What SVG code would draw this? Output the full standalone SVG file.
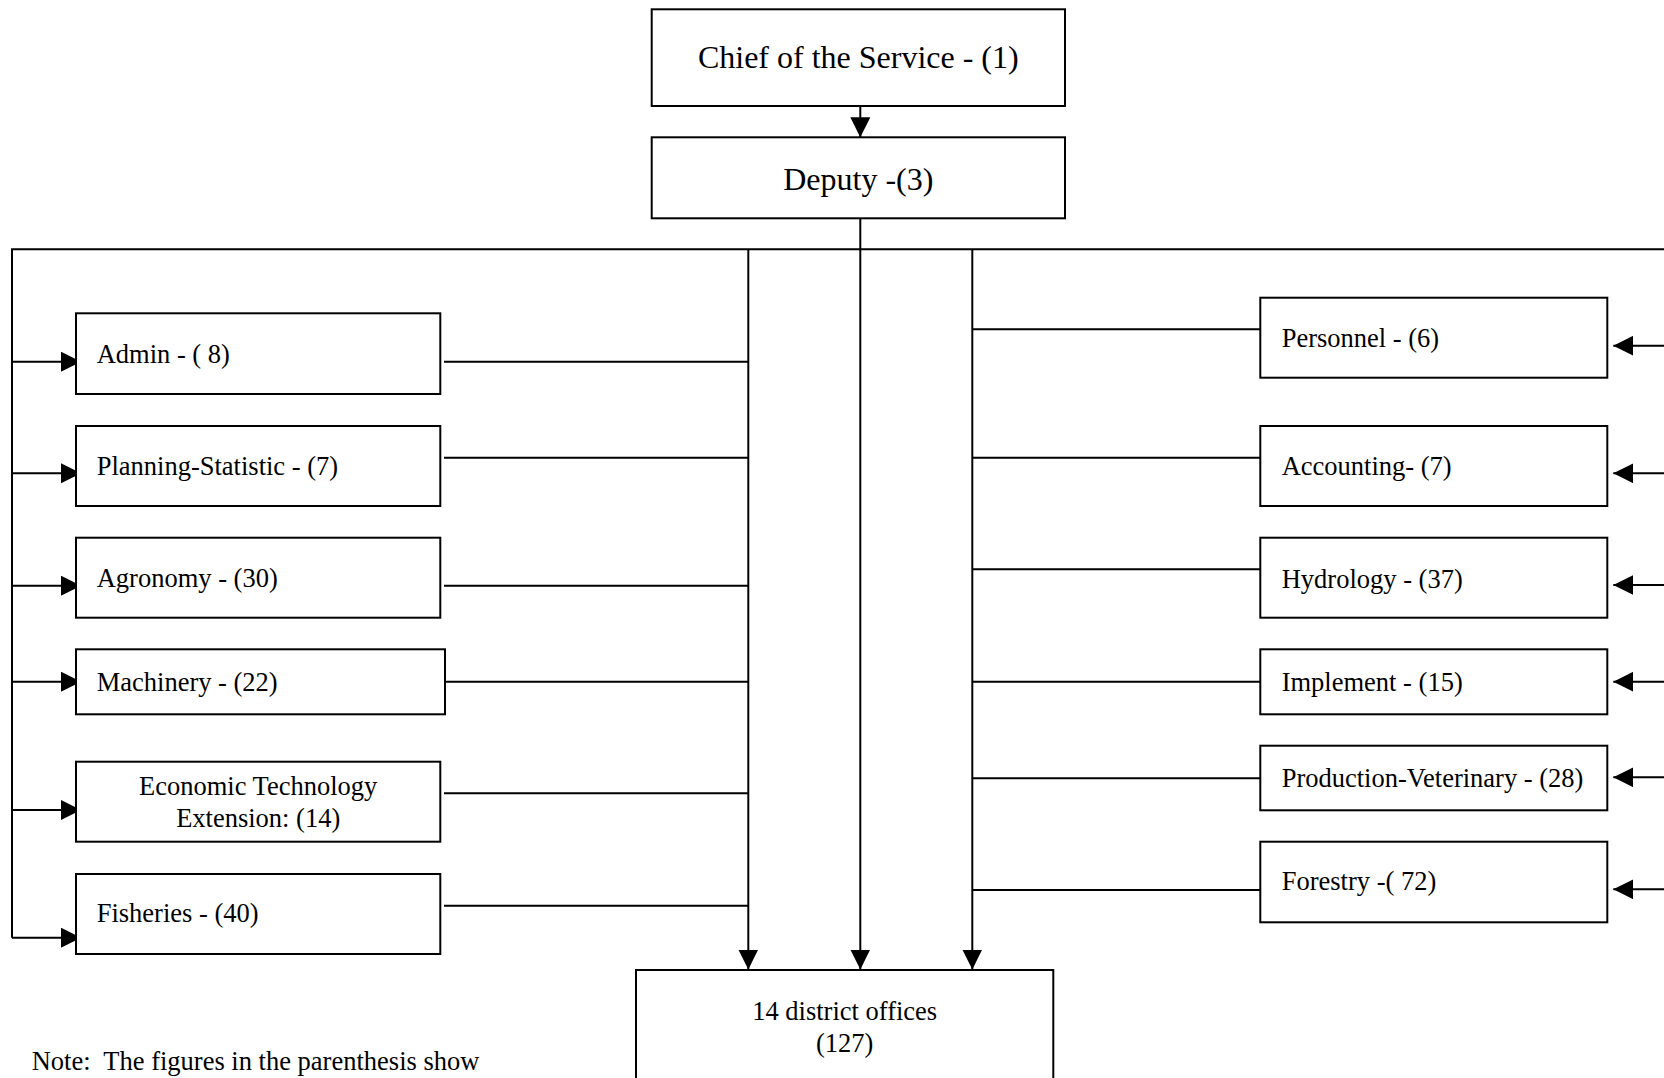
<svg xmlns="http://www.w3.org/2000/svg" width="1664" height="1078" viewBox="0 0 1664 1078">
<defs>
<marker id="ah" viewBox="0 0 20 20" refX="20" refY="10" markerWidth="20" markerHeight="20" markerUnits="userSpaceOnUse" orient="auto">
<path d="M0,0 L20,10 L0,20 Z" fill="#000"/>
</marker>
<style>
.box{fill:#fff;stroke:#000;stroke-width:2}
.ln{fill:none;stroke:#000;stroke-width:2}
.ar{fill:none;stroke:#000;stroke-width:2;marker-end:url(#ah)}
text{font-family:"Liberation Serif","Times New Roman",serif;font-size:26.5px;fill:#000}
.big{font-size:32px}
.mid{text-anchor:middle}
</style>
</defs>
<rect width="1664" height="1078" fill="#fff"/>
<g id="connectors">
<line class="ar" x1="860.3" y1="106" x2="860.3" y2="137.3"/>
<line class="ln" x1="860.3" y1="218.3" x2="860.3" y2="249.3"/>
<polyline class="ln" points="12,937.7 12,249.3 1664,249.3"/>
<line class="ar" x1="748.3" y1="249.3" x2="748.3" y2="969.5"/>
<line class="ar" x1="860.3" y1="249.3" x2="860.3" y2="969.5"/>
<line class="ar" x1="972.3" y1="249.3" x2="972.3" y2="969.5"/>
<line class="ar" x1="12" y1="361.7" x2="81" y2="361.7"/>
<line class="ar" x1="12" y1="473.3" x2="81" y2="473.3"/>
<line class="ar" x1="12" y1="585.7" x2="81" y2="585.7"/>
<line class="ar" x1="12" y1="681.7" x2="81" y2="681.7"/>
<line class="ar" x1="12" y1="810" x2="81" y2="810"/>
<line class="ar" x1="12" y1="937.7" x2="81" y2="937.7"/>
<line class="ln" x1="444" y1="361.7" x2="748.3" y2="361.7"/>
<line class="ln" x1="444" y1="457.7" x2="748.3" y2="457.7"/>
<line class="ln" x1="444" y1="585.7" x2="748.3" y2="585.7"/>
<line class="ln" x1="445" y1="681.7" x2="748.3" y2="681.7"/>
<line class="ln" x1="444" y1="793.3" x2="748.3" y2="793.3"/>
<line class="ln" x1="444" y1="905.7" x2="748.3" y2="905.7"/>
<line class="ln" x1="972.3" y1="329.3" x2="1260.3" y2="329.3"/>
<line class="ln" x1="972.3" y1="457.7" x2="1260.3" y2="457.7"/>
<line class="ln" x1="972.3" y1="569.3" x2="1260.3" y2="569.3"/>
<line class="ln" x1="972.3" y1="681.7" x2="1260.3" y2="681.7"/>
<line class="ln" x1="972.3" y1="778.3" x2="1260.3" y2="778.3"/>
<line class="ln" x1="972.3" y1="890" x2="1260.3" y2="890"/>
<line class="ar" x1="1664" y1="345.7" x2="1613.3" y2="345.7"/>
<line class="ar" x1="1664" y1="473.3" x2="1613.3" y2="473.3"/>
<line class="ar" x1="1664" y1="585" x2="1613.3" y2="585"/>
<line class="ar" x1="1664" y1="681.7" x2="1613.3" y2="681.7"/>
<line class="ar" x1="1664" y1="777.3" x2="1613.3" y2="777.3"/>
<line class="ar" x1="1664" y1="889.3" x2="1613.3" y2="889.3"/>
</g>
<g id="chief"><rect class="box" x="651.7" y="9.3" width="413.3" height="96.7"/><text class="big mid" x="858.3" y="68.3">Chief of the Service - (1)</text></g>
<g id="deputy"><rect class="box" x="651.7" y="137.3" width="413.3" height="81"/><text class="big mid" x="858.3" y="190">Deputy -(3)</text></g>
<g id="admin"><rect class="box" x="76" y="313.3" width="364.3" height="80.7"/><text x="96.7" y="363.3">Admin - ( 8)</text></g>
<g id="planning"><rect class="box" x="76" y="426" width="364.3" height="80"/><text x="96.7" y="475">Planning-Statistic - (7)</text></g>
<g id="agronomy"><rect class="box" x="76" y="537.7" width="364.3" height="80"/><text x="96.7" y="587.3">Agronomy - (30)</text></g>
<g id="machinery"><rect class="box" x="76" y="649.3" width="369" height="65"/><text x="96.7" y="690.7">Machinery - (22)</text></g>
<g id="econ"><rect class="box" x="76" y="761.7" width="364.3" height="80"/><text class="mid" x="258.2" y="795">Economic Technology</text><text class="mid" x="258.2" y="826.7">Extension: (14)</text></g>
<g id="fisheries"><rect class="box" x="76" y="874" width="364.3" height="80"/><text x="96.7" y="921.7">Fisheries - (40)</text></g>
<g id="personnel"><rect class="box" x="1260.3" y="297.7" width="347" height="80"/><text x="1281.7" y="346.7">Personnel - (6)</text></g>
<g id="accounting"><rect class="box" x="1260.3" y="426" width="347" height="80"/><text x="1281.7" y="475">Accounting- (7)</text></g>
<g id="hydrology"><rect class="box" x="1260.3" y="537.7" width="347" height="80"/><text x="1281.7" y="588.3">Hydrology - (37)</text></g>
<g id="implement"><rect class="box" x="1260.3" y="649.3" width="347" height="65"/><text x="1281.7" y="690.7">Implement - (15)</text></g>
<g id="prodvet"><rect class="box" x="1260.3" y="745.7" width="347" height="64.6"/><text x="1281.7" y="786.7">Production-Veterinary - (28)</text></g>
<g id="forestry"><rect class="box" x="1260.3" y="841.7" width="347" height="80.6"/><text x="1281.7" y="890">Forestry -( 72)</text></g>
<g id="district"><rect class="box" x="636" y="970" width="417.3" height="120"/><text class="mid" x="844.7" y="1020">14 district offices</text><text class="mid" x="844.7" y="1051.7">(127)</text></g>
<g id="note"><text x="31.7" y="1070" xml:space="preserve">Note:  The figures in the parenthesis show</text></g>
</svg>
